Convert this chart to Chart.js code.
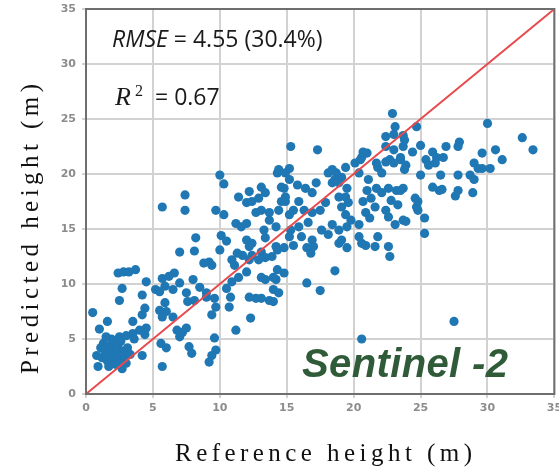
<!DOCTYPE html>
<html>
<head>
<meta charset="utf-8">
<script src="https://cdn.jsdelivr.net/npm/chart.js@4.4.1/dist/chart.umd.min.js"></script>
<style>
  html, body { margin: 0; padding: 0; background: #fff; }
  #wrap { width: 559px; height: 468px; }
</style>
</head>
<body>
<div id="wrap"><canvas id="chart" width="559" height="468"></canvas></div>
<script>
// reference height (x) and predicted height (y), grouped by x range
const refHeight = [
  // 0 - 5 m
  0.5, 1.0, 1.6, 0.9, 1.2, 1.4, 1.3, 1.6, 1.7, 1.8, 1.9, 2.0, 2.1, 2.2, 2.3, 2.4, 2.5, 2.6, 2.7, 2.7,
  1.5, 1.1, 0.8, 2.0, 2.9, 3.1, 3.0, 1.7, 2.3, 1.9, 2.6, 3.3, 2.4, 2.8, 3.2, 3.7, 2.7, 2.5, 4.5, 4.2,
  4.4, 4.2, 3.5, 4.5, 4.0, 3.5, 3.0, 3.6, 4.4, 4.2,
  // 5 - 10 m
  5.7, 5.2, 5.5, 5.7, 6.2, 6.6, 5.9, 6.5, 7.0, 7.5, 8.0, 8.5, 9.0, 7.0, 8.1, 8.2, 8.8, 9.2, 9.4, 5.5,
  6.0, 5.7, 5.9, 6.5, 6.8, 7.0, 7.5, 7.2, 5.6, 6.0, 7.7, 7.9, 9.6, 9.7, 9.4, 9.2, 7.6, 8.1, 9.0, 9.6,
  9.7, 9.4, 5.7, 7.4, 7.4, 9.7, 10.3, 10.0, 10.3, 10.1, 10.5, 10.0,
  // 10 - 15 m
  10.7, 11.2, 10.5, 10.8, 10.9, 11.4, 12.0, 11.1, 11.7, 10.9, 12.2, 12.4, 13.1, 13.4, 11.3, 12.2, 12.9,
  12.7, 13.1, 13.7, 14.2, 13.7, 14.4, 14.9, 11.2, 11.6, 12.0, 12.0, 12.4, 13.4, 13.3, 14.2, 14.3, 13.9,
  12.2, 13.1, 13.7, 12.7, 14.0, 14.2, 14.3, 14.0, 13.4, 13.1, 14.4, 14.0, 14.8, 12.3,
  11.4, 12.2, 13.1, 13.4, 12.0, 12.4, 12.9, 14.3, 14.4, 14.6, 14.9, 14.6, 14.8, 14.9, 14.8,
  // 15 - 20 m
  15.3, 17.3, 15.2, 15.2, 15.8, 16.4, 17.2, 16.9, 18.1, 18.7, 19.4, 19.1, 18.4, 18.6, 18.4, 18.9, 19.5,
  18.9, 19.4, 19.6, 19.1, 17.9, 17.5, 16.9, 15.9, 15.5, 16.3, 15.2, 19.5, 19.4, 19.8, 18.4, 18.9, 18.1,
  16.6, 15.9, 15.3, 16.1, 17.6, 16.9, 16.5, 15.5, 15.2, 16.8, 19.1, 19.5, 17.0, 18.9, 18.6, 16.5, 17.5,
  20.1, 20.5, 20.4, 20.6,
  // 20 - 25 m
  20.7, 21.0, 22.9, 23.1, 23.0, 22.4, 24.7, 23.7, 22.4, 23.8, 23.7, 23.0, 23.5,
  21.7, 22.4, 20.6, 22.7, 21.8, 22.1, 21.1, 21.0, 21.7, 22.1, 22.6, 23.2, 23.7,
  20.7, 21.3, 21.6, 22.4, 22.8, 23.3, 20.9, 21.2, 22.6, 23.1, 23.7, 20.4, 20.4, 21.8, 21.6, 22.6,
  22.7, 20.6, 20.9, 23.5, 23.9, 23.8, 23.0, 23.5, 24.6, 24.7, 23.9, 25.3, 25.3, 24.8, 24.8,
  24.4, 25.0, 25.0,
  // 25 m and above
  25.9, 25.4, 25.6, 26.2, 26.7, 26.1, 26.5, 26.4, 25.9, 26.6, 26.9, 27.9, 27.8, 27.8, 27.8, 27.6,
  28.7, 29.0, 28.9, 29.0, 29.3, 29.6, 30.2, 29.6, 30.0, 30.6, 31.1, 32.6, 33.4, 27.5,
]
const predHeight = [
  // 0 - 5 m
  7.4, 5.9, 6.6, 2.5, 3.3, 4.0, 4.6, 3.0, 3.7, 4.4, 5.0, 3.2, 4.0, 2.7, 3.6, 4.5, 5.2, 3.0, 3.9, 2.3,
  5.2, 4.2, 3.5, 4.8, 3.4, 4.2, 2.8, 2.5, 4.2, 3.5, 4.8, 3.6, 11.0, 11.1, 11.1, 11.3, 9.6, 8.5, 10.2, 9.0,
  7.8, 7.2, 6.6, 6.0, 5.8, 5.5, 5.3, 5.0, 5.4, 3.5,
  // 5 - 10 m
  2.5, 9.5, 9.3, 10.5, 10.7, 11.0, 9.8, 9.5, 10.1, 9.2, 10.4, 9.7, 8.8, 12.9, 13.0, 14.2, 11.9, 12.0, 11.7, 7.6,
  7.5, 7.0, 8.3, 7.0, 5.8, 5.2, 6.0, 5.6, 4.6, 4.2, 4.3, 3.7, 5.1, 4.0, 3.5, 2.9, 8.4, 8.5, 9.2, 8.7,
  7.9, 7.2, 17.0, 18.1, 16.7, 16.7, 16.3, 19.9, 19.1, 14.4, 13.9, 13.1,
  // 10 - 15 m
  7.9, 5.8, 9.6, 8.8, 10.2, 10.6, 11.1, 11.7, 12.6, 12.2, 12.2, 12.6, 12.9, 12.4, 12.8, 13.4, 12.2,
  16.5, 16.7, 15.8, 15.2, 16.5, 16.7, 17.5, 15.5, 15.2, 15.5, 14.0, 13.7, 14.2, 14.9, 13.4, 13.1, 12.5,
  8.8, 8.7, 8.5, 8.7, 8.4, 10.4, 11.3, 10.6, 10.4, 10.6, 9.2, 9.5, 11.0, 6.9,
  17.9, 18.4, 18.8, 18.3, 17.4, 17.5, 17.8, 20.1, 20.4, 18.8, 20.1, 17.5, 18.7, 17.9, 13.3,
  // 15 - 20 m
  22.5, 22.2, 20.5, 19.5, 19.0, 18.7, 19.2, 18.3, 20.1, 20.1, 20.6, 19.7, 20.4, 19.5, 19.2, 19.2, 18.7,
  17.9, 17.9, 17.4, 17.0, 17.4, 16.7, 16.5, 17.5, 16.7, 16.7, 16.3, 15.2, 16.3, 15.8, 15.4, 14.9, 14.5,
  15.6, 15.2, 14.9, 14.3, 14.9, 14.0, 13.3, 13.5, 14.3, 12.8, 14.0, 13.3, 13.4, 13.7, 11.2, 10.1, 9.4,
  21.0, 21.3, 20.1, 13.7,
  // 20 - 25 m
  22.0, 21.9, 25.5, 24.3, 23.6, 23.4, 24.3, 23.5, 22.5, 23.1, 22.5, 22.2, 21.5,
  21.0, 21.1, 21.5, 21.3, 20.6, 20.1, 19.5, 18.5, 18.7, 18.3, 18.7, 18.5, 18.7,
  17.5, 17.8, 17.0, 16.7, 17.6, 17.2, 16.5, 16.0, 16.1, 15.4, 15.8, 15.4, 14.3, 14.3, 13.4, 13.4,
  12.5, 5.0, 13.5, 21.3, 20.8, 20.4, 21.0, 18.5, 17.8, 17.0, 15.7, 16.0, 14.6, 16.7, 17.5,
  22.0, 22.6, 19.9,
  // 25 m and above
  22.0, 21.3, 20.8, 21.5, 21.5, 21.0, 19.9, 18.5, 18.8, 18.6, 22.5, 22.9, 22.5, 19.9, 18.5, 18.0,
  19.9, 19.5, 18.3, 21.0, 20.5, 20.5, 20.5, 21.9, 24.6, 22.2, 21.3, 23.3, 22.2, 6.6,
]
// 1:1 line
const oneToOne = [0, 35]
const axisMin = 0
const axisMax = 35
const tickStep = 5

const rmseLabel = 'RMSE'
const rmseText = ' = 4.55 (30.4%)'
const r2Value = '= 0.67'
const sensorName = 'Sentinel -2'
const xTitle = 'Reference height (m)'
const yTitle = 'Predicted height (m)'

let points = refHeight.map((x, i) => ({x: x, y: predHeight[i]}))

// text drawn with a fixed span, spacing the letters out like the original
function spacedText(ctx, text, x, y, span) {
  ctx.letterSpacing = '0px'
  let w = ctx.measureText(text).width
  let gap = (span - w) / (text.length - 1)
  ctx.letterSpacing = gap + 'px'
  ctx.textAlign = 'left'
  ctx.fillText(text, x, y)
  ctx.letterSpacing = '0px'
}

const overlay = {
  id: 'overlay',
  afterDraw(chart) {
    let ctx = chart.ctx
    let a = chart.chartArea
    ctx.save()
    // frame
    ctx.strokeStyle = '#6e6e6e'
    ctx.lineWidth = 2
    ctx.strokeRect(a.left, a.top, a.right - a.left, a.bottom - a.top)

    ctx.fillStyle = '#1a1a1a'
    ctx.textBaseline = 'alphabetic'
    ctx.textAlign = 'left'
    ctx.font = 'italic 23px "Open Sans"'
    ctx.fillText(rmseLabel, 112, 47)
    let w = ctx.measureText(rmseLabel).width
    ctx.font = '23px "Open Sans"'
    ctx.fillText(rmseText, 112 + w, 47)

    ctx.font = 'italic 26px "Liberation Serif"'
    ctx.fillText('R', 115, 105)
    ctx.font = '16px "Liberation Serif"'
    ctx.fillText('2', 135, 96)
    ctx.font = '23px "Open Sans"'
    ctx.fillText(r2Value, 155, 105)

    ctx.fillStyle = '#2f5b38'
    ctx.font = 'italic bold 40px "Liberation Sans"'
    spacedText(ctx, sensorName, 302, 377, 206)

    ctx.fillStyle = '#111'
    ctx.font = '25px "Liberation Serif"'
    spacedText(ctx, xTitle, 175, 461, 297)
    ctx.translate(38, 374)
    ctx.rotate(-Math.PI / 2)
    spacedText(ctx, yTitle, 0, 0, 290)
    ctx.restore()
  },
}

let tickFont = {family: 'DejaVu Sans', size: 11, weight: 'bold'}

new Chart(document.getElementById('chart'), {
  type: 'scatter',
  data: {
    datasets: [
      {
        type: 'line',
        data: oneToOne.map((v) => ({x: v, y: v})),
        borderColor: '#e84a4c',
        borderWidth: 2,
        pointRadius: 0,
        fill: false,
      },
      {
        data: points,
        backgroundColor: '#1f77b4',
        borderWidth: 0,
        pointRadius: 4.6,
        pointHoverRadius: 4.6,
      },
    ],
  },
  options: {
    responsive: false,
    animation: false,
    events: [],
    layout: {padding: {top: 9, right: 2, left: 0, bottom: 0}},
    plugins: {legend: {display: false}, tooltip: {enabled: false}},
    scales: {
      x: {
        type: 'linear',
        min: axisMin,
        max: axisMax,
        ticks: {stepSize: tickStep, color: '#8c8c8c', font: tickFont, padding: 4},
        grid: {color: '#d2d2d2', lineWidth: 2, tickLength: 4},
        border: {display: false},
        afterFit(scale) {
          scale.height = 74
          scale.paddingLeft = 0
          scale.paddingRight = 0
        },
      },
      y: {
        type: 'linear',
        min: axisMin,
        max: axisMax,
        ticks: {stepSize: tickStep, color: '#8c8c8c', font: tickFont, padding: 6},
        grid: {color: '#d2d2d2', lineWidth: 2, tickLength: 4},
        border: {display: false},
        afterFit(scale) {
          scale.width = 86
          scale.paddingTop = 0
          scale.paddingBottom = 0
        },
      },
    },
  },
  plugins: [overlay],
})
</script>
</body>
</html>
